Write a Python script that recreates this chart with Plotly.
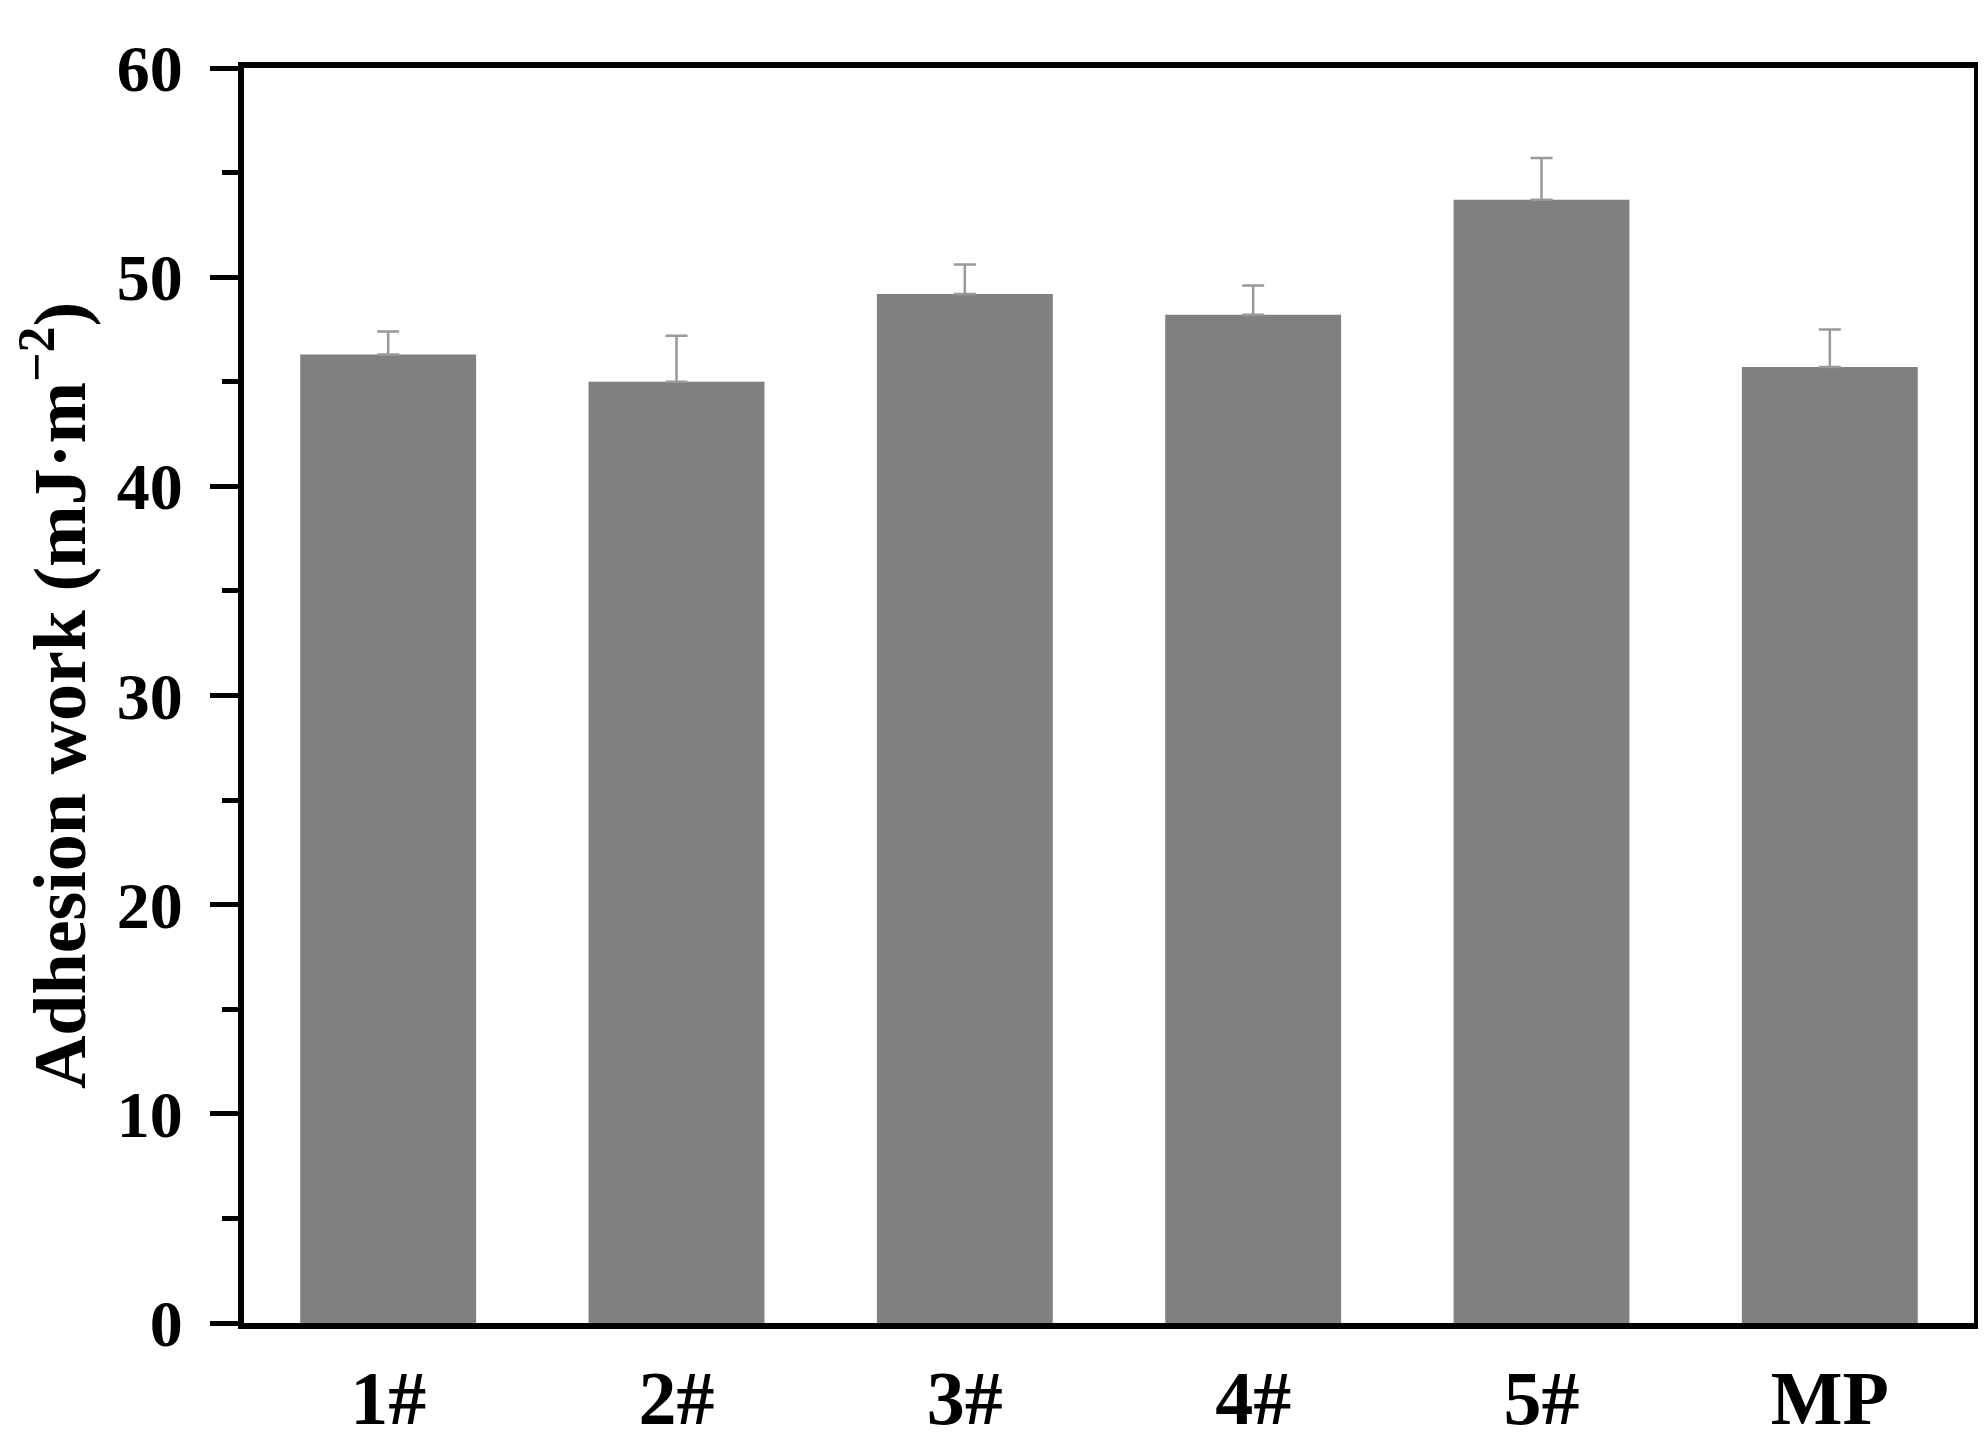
import plotly.graph_objects as go

# sample labels and measured adhesion work (mJ/m^2), upper error only
samples = ["1#", "2#", "3#", "4#", "5#", "MP"]
adhesion_work = [46.3, 45.0, 49.2, 48.2, 53.7, 45.7]
error_plus = [1.1, 2.2, 1.4, 1.4, 2.0, 1.8]

y_ticks = [0, 10, 20, 30, 40, 50, 60]

SERIF = "Liberation Serif, Times New Roman, serif"

fig = go.Figure()
fig.add_trace(go.Bar(
    x=samples,
    y=adhesion_work,
    marker_color="#808080",
    marker_line_width=0,
    error_y=dict(
        type="data",
        array=error_plus,
        symmetric=False,
        arrayminus=[0] * len(error_plus),
        color="#999999",
        thickness=2.5,
        width=11,
    ),
))

fig.update_layout(
    width=1986,
    height=1444,
    margin=dict(l=236, r=20, t=60, b=117),
    paper_bgcolor="#ffffff",
    plot_bgcolor="#ffffff",
    bargap=0.39,
    showlegend=False,
    font=dict(family=SERIF, color="#000000"),
)

fig.update_xaxes(
    showline=True,
    linecolor="#000000",
    linewidth=6,
    mirror=True,
    ticks="",
    showgrid=False,
    tickfont=dict(family=SERIF, size=76, weight="bold"),
    ticklabelstandoff=4,
)

fig.update_yaxes(
    range=[0, 60],
    tickvals=y_ticks,
    showline=True,
    linecolor="#000000",
    linewidth=6,
    mirror=True,
    ticks="outside",
    ticklen=28,
    tickwidth=5,
    tickcolor="#000000",
    minor=dict(dtick=5, ticks="outside", ticklen=16, tickwidth=5, tickcolor="#000000"),
    showgrid=False,
    zeroline=False,
    tickfont=dict(family=SERIF, size=66, weight="bold"),
    ticklabelstandoff=14,
    title=dict(
        text="Adhesion work (mJ·m<sup>−2</sup>)",
        font=dict(family=SERIF, size=74, weight="bold"),
        standoff=34,
    ),
)

fig.write_html("out.html")
